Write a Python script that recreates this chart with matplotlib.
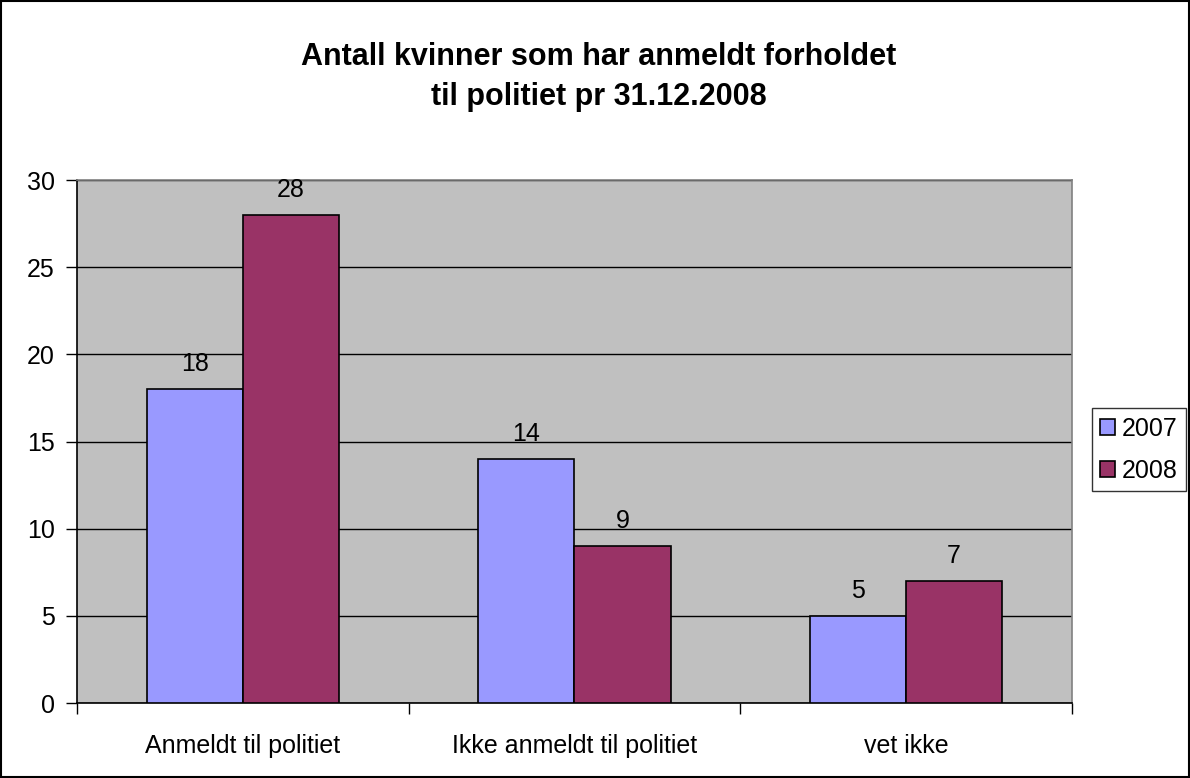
import numpy as np
import matplotlib.pyplot as plt
from matplotlib.patches import Rectangle

plt.rcParams['font.family'] = ['Liberation Sans', 'DejaVu Sans']

categories = ['Anmeldt til politiet', 'Ikke anmeldt til politiet', 'vet ikke']
series_names = ['2007', '2008']
values_2007 = [18, 14, 5]
values_2008 = [28, 9, 7]
yticks = [0, 5, 10, 15, 20, 25, 30]

colors = ['#9999FF', '#993366']
bar_w = 0.29

fig = plt.figure(figsize=(11.9, 7.78), dpi=100)
ax = fig.add_axes([0.0647, 0.0964, 0.836, 0.672])
ax.set_facecolor('#C0C0C0')

x = np.arange(len(categories))
for i, (vals, name) in enumerate(zip([values_2007, values_2008], series_names)):
    pos = x + (i - 0.5) * bar_w
    ax.bar(pos, vals, width=bar_w, color=colors[i], edgecolor='black',
           linewidth=1.2, label=name, zorder=3)
    for p, v in zip(pos, vals):
        ax.text(p, v + 0.75, str(v), ha='center', va='bottom', fontsize=18, zorder=4)

ax.set_xlim(-0.5, len(categories) - 0.5)
ax.set_ylim(0, 30)
ax.set_yticks(yticks)
ax.tick_params(axis='y', labelsize=18, length=8, width=1, direction='out', pad=8)
ax.yaxis.grid(True, color='black', linewidth=1, zorder=0)
ax.set_axisbelow(True)

ax.set_xticks(x)
ax.set_xticklabels(categories, fontsize=18)
ax.tick_params(axis='x', which='major', length=0, pad=22)
ax.set_xticks(np.arange(-0.5, len(categories), 1), minor=True)
ax.tick_params(axis='x', which='minor', length=8, width=1, direction='out')

ax.spines['left'].set_color('black')
ax.spines['bottom'].set_color('black')
ax.spines['top'].set_color('#808080')
ax.spines['right'].set_color('#808080')
for s in ax.spines.values():
    s.set_linewidth(1.2)

fig.text(0.503, 0.901, 'Antall kvinner som har anmeldt forholdet\ntil politiet pr 31.12.2008',
         ha='center', va='center', fontsize=22, fontweight='bold', linespacing=1.4)

leg = ax.legend(loc='center left', bbox_to_anchor=(1.02, 0.484), fontsize=18,
                frameon=True, fancybox=False, edgecolor='black', handlelength=0.6,
                handleheight=0.6, handletextpad=0.25, borderpad=0.35, labelspacing=0.7,
                borderaxespad=0)
leg.get_frame().set_linewidth(1)

fig.patches.append(Rectangle((0.001, 0.001), 0.998, 0.998, transform=fig.transFigure,
                             fill=False, edgecolor='black', linewidth=1.5))

fig.savefig('out.png', dpi=100)
